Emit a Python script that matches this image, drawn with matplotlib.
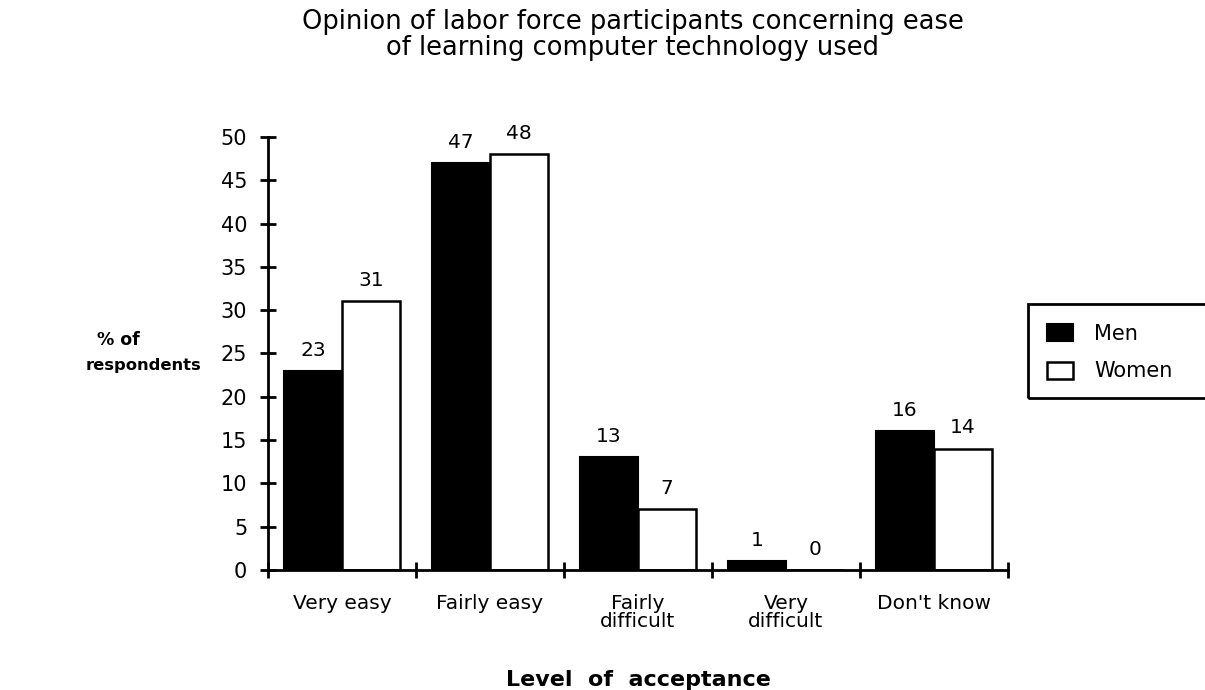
import numpy as np
import matplotlib.pyplot as plt
from matplotlib.patches import Rectangle

plt.rcParams['font.family'] = ['DejaVu Sans']

categories = ["Very easy", "Fairly easy", "Fairly\ndifficult", "Very\ndifficult", "Don't know"]
men = [23, 47, 13, 1, 16]
women = [31, 48, 7, 0, 14]
yticks = [0, 5, 10, 15, 20, 25, 30, 35, 40, 45, 50]

fig = plt.figure(figsize=(12.05, 6.9), dpi=100)
fig.patch.set_facecolor('white')
ax = fig.add_axes([0.2224, 0.174, 0.614, 0.6275])

x = np.arange(len(categories))
w = 0.39
b1 = ax.bar(x - w / 2, men, w, color='black', edgecolor='black', linewidth=1.5, label='Men')
b2 = ax.bar(x + w / 2, women, w, color='white', edgecolor='black', linewidth=1.8, label='Women')

# value labels above bars
for bars, vals in [(b1, men), (b2, women)]:
    for r, v in zip(bars, vals):
        ax.text(r.get_x() + r.get_width() / 2, v + 1.3, str(v), ha='center', va='bottom',
                fontsize=14.5)

ax.set_xlim(-0.5, len(categories) - 0.5)
ax.set_ylim(0, 50)
ax.set_yticks(yticks)
ax.set_yticklabels([str(t) for t in yticks], fontsize=15)

# ticks sit at category boundaries, labels at centres
ax.set_xticks(np.arange(-0.5, len(categories)), minor=True)
ax.set_xticks(x)
ax.set_xticklabels(categories, fontsize=14.5, linespacing=0.95)
ax.tick_params(axis='x', which='major', length=0, pad=17)
ax.tick_params(axis='x', which='minor', length=12, width=2, direction='inout')
ax.tick_params(axis='y', length=12, width=2, direction='inout', pad=9)

for s in ['top', 'right']:
    ax.spines[s].set_visible(False)
for s in ['left', 'bottom']:
    ax.spines[s].set_linewidth(2)

fig.text(0.525, 0.949, "Opinion of labor force participants concerning ease\nof learning computer technology used",
         ha='center', va='center', fontsize=18.5, linespacing=1.0)
fig.text(0.098, 0.507, "% of", ha='center', va='center', fontsize=12.5, fontweight='bold')
fig.text(0.119, 0.47, "respondents", ha='center', va='center', fontsize=11.8, fontweight='bold')
fig.text(0.53, 0.015, "Level  of  acceptance", ha='center', va='center', fontsize=16,
         fontweight='bold')

# legend frame runs off the right edge like in the scan
fig.add_artist(Rectangle((0.8531, 0.4232), 0.16, 0.1362, transform=fig.transFigure,
                         facecolor='none', edgecolor='black', linewidth=2, clip_on=False))
fig.legend(handles=[b1, b2], loc='center left', bbox_to_anchor=(1047 / 1205, 1 - 352.5 / 690),
           frameon=False, fontsize=15, handlelength=1.25, handleheight=0.87,
           borderpad=0, labelspacing=0.85, handletextpad=1.0, borderaxespad=0)

fig.savefig('out.png', dpi=100, facecolor='white')
